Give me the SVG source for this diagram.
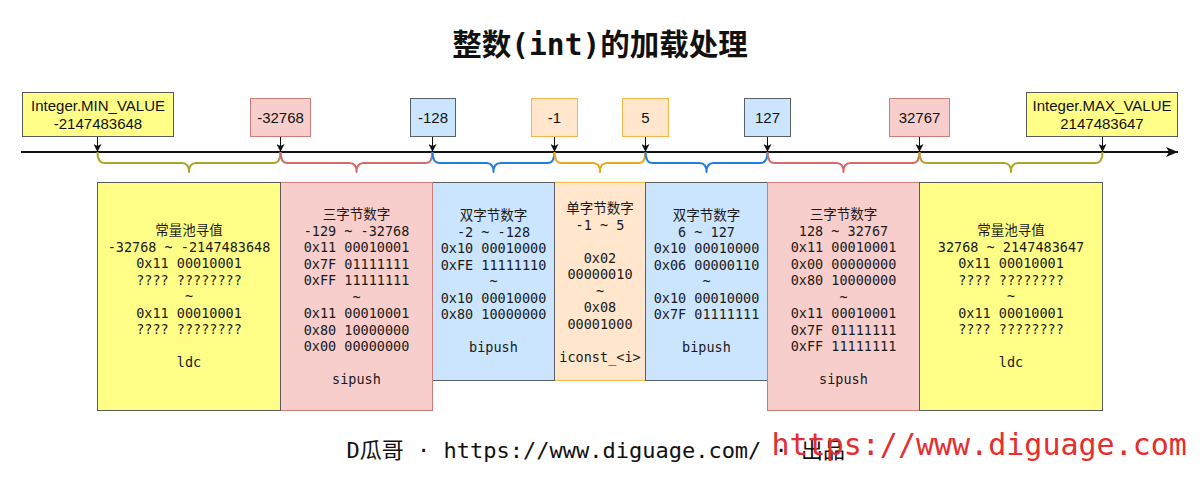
<svg xmlns="http://www.w3.org/2000/svg" width="1200" height="480" viewBox="0 0 1200 480">
<defs>
<style>
.sans{font-family:"Liberation Sans","Noto Sans CJK SC",sans-serif;font-size:15px;fill:#111;text-anchor:middle}
.mono{font-family:"DejaVu Sans Mono","Noto Sans CJK SC",monospace;font-size:13.5px;fill:#1a1a1a;text-anchor:middle}
.title{font-family:"DejaVu Sans Mono","Noto Sans CJK SC",monospace;font-size:29.5px;font-weight:bold;fill:#111;text-anchor:middle}
.yel{fill:#ffff88;stroke:#5a5a5a;stroke-width:1}
.red{fill:#f8cecc;stroke:#d07c7a;stroke-width:1}
.blu{fill:#cce5ff;stroke:#5a5f66;stroke-width:1}
.org{fill:#ffe6cc;stroke:#f2b84a;stroke-width:1}
.brace{fill:none;stroke-width:2;stroke-linejoin:round}
.tick{stroke:#111;stroke-width:1;fill:none}
</style>
<marker id="ah" viewBox="0 0 8 8" refX="8" refY="4" markerWidth="8" markerHeight="8" markerUnits="userSpaceOnUse" orient="auto">
<path d="M0,0 L8,4 L0,8 L2,4 Z" fill="#111"/>
</marker>
<marker id="ahBig" viewBox="0 0 12 10" refX="12" refY="5" markerWidth="12" markerHeight="10" markerUnits="userSpaceOnUse" orient="auto">
<path d="M0,0 L12,5 L0,10 L3,5 Z" fill="#111"/>
</marker>
</defs>
<rect width="1200" height="480" fill="#ffffff"/>

<text class="title" x="600" y="55">整数(int)的加载处理</text>

<!-- top value boxes -->
<g id="min-value">
<rect class="yel" x="22.5" y="92.5" width="151" height="44"/>
<text class="sans" x="98" y="110.5">Integer.MIN_VALUE</text>
<text class="sans" x="98" y="129">-2147483648</text>
</g>
<g id="v-32768">
<rect class="red" x="250.5" y="98.5" width="60" height="38"/>
<text class="sans" x="280.5" y="123">-32768</text>
</g>
<g id="v-128">
<rect class="blu" x="410.5" y="98.5" width="45" height="38"/>
<text class="sans" x="433" y="123">-128</text>
</g>
<g id="v-1">
<rect class="org" x="531.5" y="98.5" width="46" height="38"/>
<text class="sans" x="554.5" y="123">-1</text>
</g>
<g id="v5">
<rect class="org" x="622.5" y="98.5" width="46" height="38"/>
<text class="sans" x="645.5" y="123">5</text>
</g>
<g id="v127">
<rect class="blu" x="744.5" y="98.5" width="46" height="38"/>
<text class="sans" x="767.5" y="123">127</text>
</g>
<g id="v32767">
<rect class="red" x="889.5" y="98.5" width="60" height="38"/>
<text class="sans" x="919.5" y="123">32767</text>
</g>
<g id="max-value">
<rect class="yel" x="1026.5" y="92.5" width="151" height="44"/>
<text class="sans" x="1102" y="110.5">Integer.MAX_VALUE</text>
<text class="sans" x="1102" y="129">2147483647</text>
</g>

<!-- connectors -->
<g id="connectors">
<line x1="21" y1="152" x2="1178" y2="152" stroke="#111" stroke-width="2" marker-end="url(#ahBig)"/>
<line class="tick" x1="97.5" y1="137" x2="97.5" y2="152" marker-end="url(#ah)"/>
<line class="tick" x1="280.5" y1="137" x2="280.5" y2="152" marker-end="url(#ah)"/>
<line class="tick" x1="432.5" y1="137" x2="432.5" y2="152" marker-end="url(#ah)"/>
<line class="tick" x1="554.5" y1="137" x2="554.5" y2="152" marker-end="url(#ah)"/>
<line class="tick" x1="645.5" y1="137" x2="645.5" y2="152" marker-end="url(#ah)"/>
<line class="tick" x1="767.5" y1="137" x2="767.5" y2="152" marker-end="url(#ah)"/>
<line class="tick" x1="919.5" y1="137" x2="919.5" y2="152" marker-end="url(#ah)"/>
<line class="tick" x1="1102.5" y1="137" x2="1102.5" y2="152" marker-end="url(#ah)"/>
<path class="brace" stroke="#aca72c" d="M97.5,152 Q97.5,163 104.5,163 L182,163 Q189,163 189,172 Q189,163 196,163 L273.5,163 Q280.5,163 280.5,152"/>
<path class="brace" stroke="#d46a6a" d="M280.5,152 Q280.5,163 287.5,163 L349.5,163 Q356.5,163 356.5,172 Q356.5,163 363.5,163 L425.5,163 Q432.5,163 432.5,152"/>
<path class="brace" stroke="#1f7fe0" d="M432.5,152 Q432.5,163 439.5,163 L486.5,163 Q493.5,163 493.5,172 Q493.5,163 500.5,163 L547.5,163 Q554.5,163 554.5,152"/>
<path class="brace" stroke="#e8a920" d="M554.5,152 Q554.5,163 561.5,163 L593,163 Q600,163 600,172 Q600,163 607,163 L638.5,163 Q645.5,163 645.5,152"/>
<path class="brace" stroke="#1f7fe0" d="M645.5,152 Q645.5,163 652.5,163 L699.5,163 Q706.5,163 706.5,172 Q706.5,163 713.5,163 L760.5,163 Q767.5,163 767.5,152"/>
<path class="brace" stroke="#d46a6a" d="M767.5,152 Q767.5,163 774.5,163 L836.5,163 Q843.5,163 843.5,172 Q843.5,163 850.5,163 L912.5,163 Q919.5,163 919.5,152"/>
<path class="brace" stroke="#aca72c" d="M919.5,152 Q919.5,163 926.5,163 L1004,163 Q1011,163 1011,172 Q1011,163 1018,163 L1095.5,163 Q1102.5,163 1102.5,152"/>
</g>

<!-- range boxes -->
<g id="range-iconst">
<rect class="org" x="554.5" y="182.5" width="91" height="198"/>
<text class="mono" x="600" y="213">单字节数字<tspan x="600" dy="16.5">-1 ~ 5</tspan><tspan x="600" dy="33">0x02</tspan><tspan x="600" dy="16.5">00000010</tspan><tspan x="600" dy="16.5">~</tspan><tspan x="600" dy="16.5">0x08</tspan><tspan x="600" dy="16.5">00001000</tspan><tspan x="600" dy="33">iconst_&lt;i&gt;</tspan></text>
</g>
<g id="range-bipush-neg">
<rect class="blu" x="432.5" y="182.5" width="122" height="198"/>
<text class="mono" x="493.5" y="220">双字节数字<tspan x="493.5" dy="16.5">-2 ~ -128</tspan><tspan x="493.5" dy="16.5">0x10 00010000</tspan><tspan x="493.5" dy="16.5">0xFE 11111110</tspan><tspan x="493.5" dy="16.5">~</tspan><tspan x="493.5" dy="16.5">0x10 00010000</tspan><tspan x="493.5" dy="16.5">0x80 10000000</tspan><tspan x="493.5" dy="33">bipush</tspan></text>
</g>
<g id="range-bipush-pos">
<rect class="blu" x="645.5" y="182.5" width="122" height="198"/>
<text class="mono" x="706.5" y="220">双字节数字<tspan x="706.5" dy="16.5">6 ~ 127</tspan><tspan x="706.5" dy="16.5">0x10 00010000</tspan><tspan x="706.5" dy="16.5">0x06 00000110</tspan><tspan x="706.5" dy="16.5">~</tspan><tspan x="706.5" dy="16.5">0x10 00010000</tspan><tspan x="706.5" dy="16.5">0x7F 01111111</tspan><tspan x="706.5" dy="33">bipush</tspan></text>
</g>
<g id="range-sipush-neg">
<rect class="red" x="280.5" y="182.5" width="152" height="228"/>
<text class="mono" x="356.5" y="219">三字节数字<tspan x="356.5" dy="16.5">-129 ~ -32768</tspan><tspan x="356.5" dy="16.5">0x11 00010001</tspan><tspan x="356.5" dy="16.5">0x7F 01111111</tspan><tspan x="356.5" dy="16.5">0xFF 11111111</tspan><tspan x="356.5" dy="16.5">~</tspan><tspan x="356.5" dy="16.5">0x11 00010001</tspan><tspan x="356.5" dy="16.5">0x80 10000000</tspan><tspan x="356.5" dy="16.5">0x00 00000000</tspan><tspan x="356.5" dy="33">sipush</tspan></text>
</g>
<g id="range-sipush-pos">
<rect class="red" x="767.5" y="182.5" width="152" height="228"/>
<text class="mono" x="843.5" y="219">三字节数字<tspan x="843.5" dy="16.5">128 ~ 32767</tspan><tspan x="843.5" dy="16.5">0x11 00010001</tspan><tspan x="843.5" dy="16.5">0x00 00000000</tspan><tspan x="843.5" dy="16.5">0x80 10000000</tspan><tspan x="843.5" dy="16.5">~</tspan><tspan x="843.5" dy="16.5">0x11 00010001</tspan><tspan x="843.5" dy="16.5">0x7F 01111111</tspan><tspan x="843.5" dy="16.5">0xFF 11111111</tspan><tspan x="843.5" dy="33">sipush</tspan></text>
</g>
<g id="range-ldc-neg">
<rect class="yel" x="97.5" y="182.5" width="183" height="228"/>
<text class="mono" x="189" y="235">常量池寻值<tspan x="189" dy="16.5">-32768 ~ -2147483648</tspan><tspan x="189" dy="16.5">0x11 00010001</tspan><tspan x="189" dy="16.5">???? ????????</tspan><tspan x="189" dy="16.5">~</tspan><tspan x="189" dy="16.5">0x11 00010001</tspan><tspan x="189" dy="16.5">???? ????????</tspan><tspan x="189" dy="33">ldc</tspan></text>
</g>
<g id="range-ldc-pos">
<rect class="yel" x="919.5" y="182.5" width="183" height="228"/>
<text class="mono" x="1011" y="235">常量池寻值<tspan x="1011" dy="16.5">32768 ~ 2147483647</tspan><tspan x="1011" dy="16.5">0x11 00010001</tspan><tspan x="1011" dy="16.5">???? ????????</tspan><tspan x="1011" dy="16.5">~</tspan><tspan x="1011" dy="16.5">0x11 00010001</tspan><tspan x="1011" dy="16.5">???? ????????</tspan><tspan x="1011" dy="33">ldc</tspan></text>
</g>

<!-- footer -->
<text x="346.5" y="458" font-family="'DejaVu Sans Mono','Noto Sans CJK SC',monospace" font-size="22" fill="#111">D瓜哥 · https://www.diguage.com/ · 出品</text>
<text x="771.5" y="455" font-family="'DejaVu Sans Mono',monospace" font-size="30" fill="#e52e2e">https://www.diguage.com</text>
</svg>
